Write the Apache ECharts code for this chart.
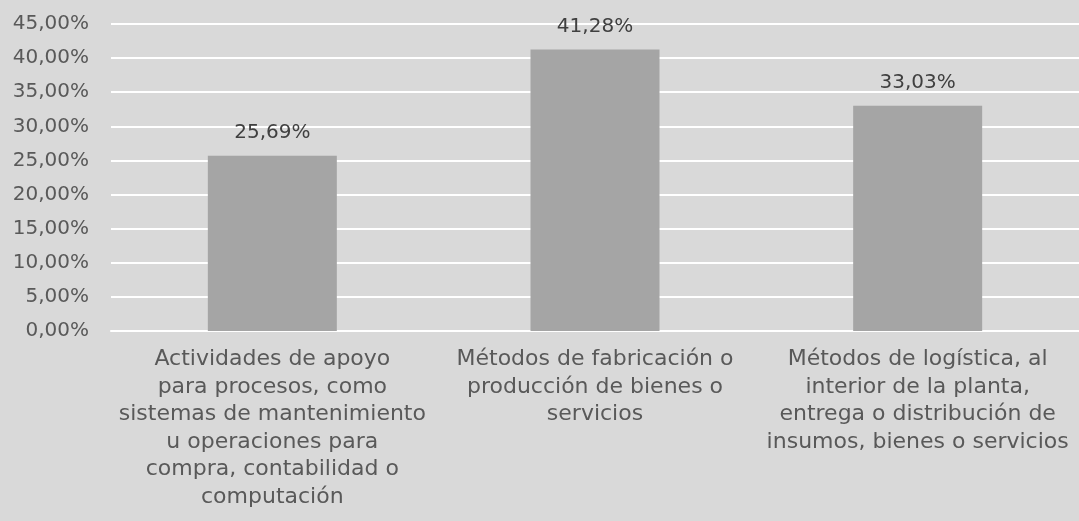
<!DOCTYPE html>
<html>
<head>
<meta charset="utf-8">
<script src="https://cdn.jsdelivr.net/npm/echarts@6/dist/echarts.min.js"></script>
<style>
  html, body { margin: 0; padding: 0; background: #d9d9d9; }
  #chart { width: 1079px; height: 521px; }
</style>
</head>
<body>
<div id="chart"></div>
<script>
const categories = [
  'Actividades de apoyo\npara procesos, como\nsistemas de mantenimiento\nu operaciones para\ncompra, contabilidad o\ncomputación',
  'Métodos de fabricación o\nproducción de bienes o\nservicios',
  'Métodos de logística, al\ninterior de la planta,\nentrega o distribución de\ninsumos, bienes o servicios'
];
const values = [25.69, 41.28, 33.03];
const yMin = 0, yMax = 45, yStep = 5;

const fmt = v => v.toFixed(2).replace('.', ',') + '%';
const font = 'DejaVu Sans';

const chart = echarts.init(document.getElementById('chart'));
chart.setOption({
  backgroundColor: '#d9d9d9',
  animation: false,
  grid: { left: 111, top: 24, width: 975, height: 307 },
  xAxis: {
    type: 'category',
    data: categories,
    axisLine: { lineStyle: { color: '#ffffff', width: 2 } },
    axisTick: { show: false },
    axisLabel: {
      interval: 0, color: '#595959', fontFamily: font, fontSize: 22,
      lineHeight: 27.5, margin: 15
    }
  },
  yAxis: {
    type: 'value', min: yMin, max: yMax, interval: yStep,
    axisLine: { show: false },
    axisTick: { show: false },
    splitLine: { lineStyle: { color: '#ffffff', width: 2 } },
    axisLabel: {
      color: '#595959', fontFamily: font, fontSize: 20, margin: 22,
      formatter: fmt
    }
  },
  series: [{
    type: 'bar',
    data: values,
    barWidth: 129,
    itemStyle: { color: '#a5a5a5' },
    label: {
      show: true, position: 'top', distance: 13,
      color: '#404040', fontFamily: font, fontSize: 20,
      formatter: p => fmt(p.value)
    }
  }]
});
</script>
</body>
</html>
